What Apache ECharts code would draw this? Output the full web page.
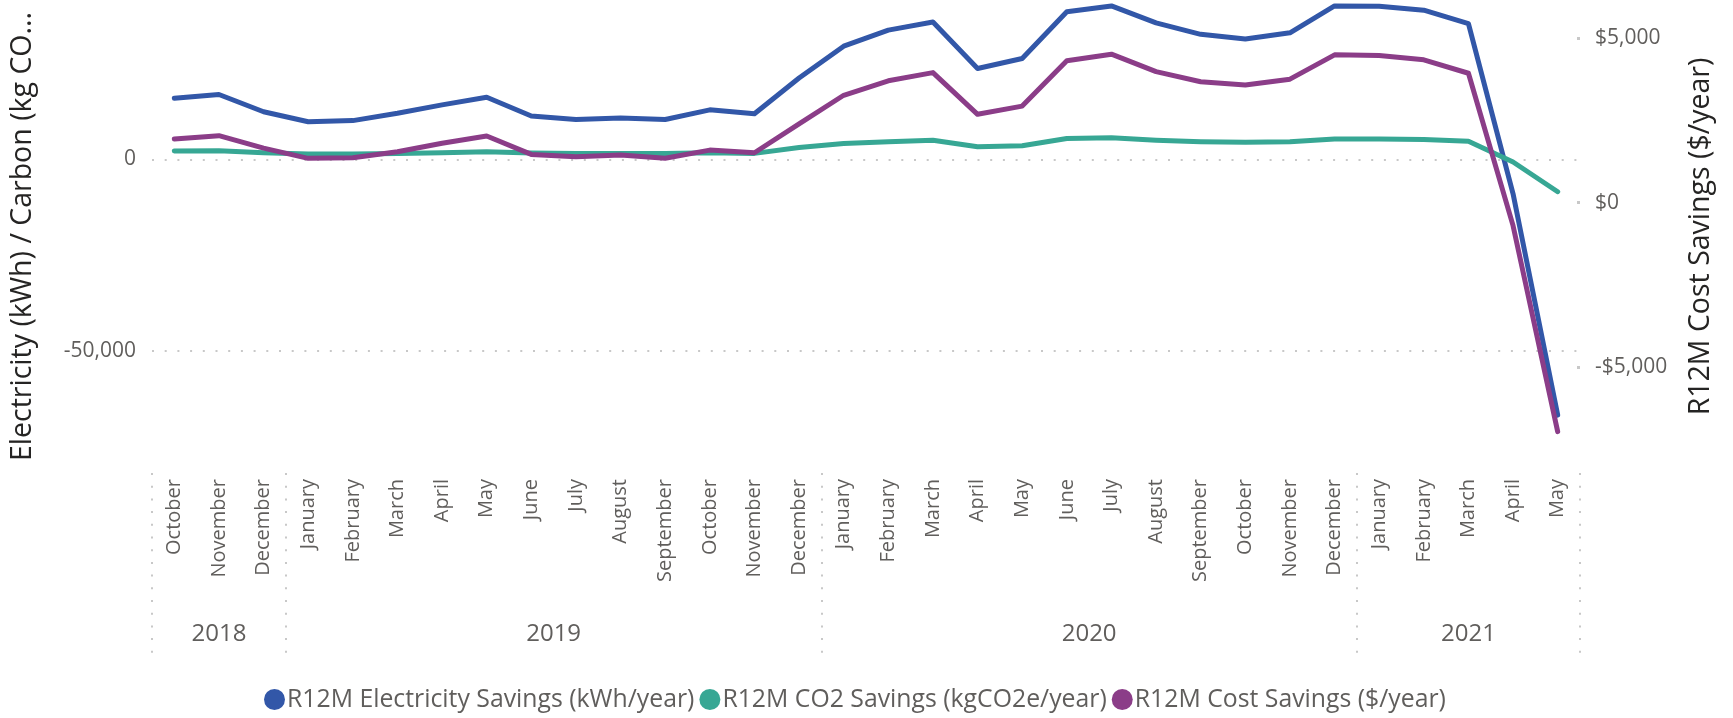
<!DOCTYPE html>
<html>
<head>
<meta charset="utf-8">
<title>R12M Savings</title>
<script src="https://cdn.jsdelivr.net/npm/echarts@6/dist/echarts.min.js"></script>
<style>
	html, body { margin: 0; padding: 0; background: #fff; }
	#root { width: 1733px; height: 718px; }
</style>
</head>
<body>
<div id="root"></div>
<script>
// months from October 2018 to May 2021
var months = [
	'October', 'November', 'December',
	'January', 'February', 'March', 'April', 'May', 'June', 'July', 'August', 'September', 'October', 'November', 'December',
	'January', 'February', 'March', 'April', 'May', 'June', 'July', 'August', 'September', 'October', 'November', 'December',
	'January', 'February', 'March', 'April', 'May'
];
var years = [ '2018', '2019', '2020', '2021' ];
var monthsPerYear = [ 3, 12, 12, 5 ];

// kWh/year
var electricitySavings = [
	15900, 16900, 12400,
	9800, 10100, 12000, 14200, 16200, 11300, 10400, 10800, 10400, 12900, 11900, 21200,
	29500, 33700, 35800, 23700, 26300, 38500, 40000, 35600, 32600, 31400, 33000, 40000,
	39900, 38900, 35400, -9000, -66700
];
// kgCO2e/year
var co2Savings = [
	2150, 2250, 1700,
	1400, 1400, 1550, 1700, 1950, 1650, 1550, 1550, 1550, 1700, 1550, 3100,
	4150, 4600, 5000, 3300, 3550, 5450, 5600, 5000, 4600, 4450, 4600, 5300,
	5300, 5200, 4700, -700, -8450
];
// $/year
var costSavings = [
	1940, 2040, 1660,
	1350, 1370, 1550, 1810, 2030, 1470, 1400, 1450, 1350, 1600, 1520, 2400,
	3270, 3710, 3960, 2690, 2940, 4320, 4520, 3990, 3680, 3580, 3760, 4500,
	4480, 4350, 3940, -700, -6970
];

var leftTicks = [ -50000, 0 ];
var rightTicks = [ -5000, 0, 5000 ];

var seriesNames = [
	'R12M Electricity Savings (kWh/year)',
	'R12M CO2 Savings (kgCO2e/year)',
	'R12M Cost Savings ($/year)'
];
var colors = [ '#3257A8', '#37A794', '#8B3D88' ];

// year separators and label centres on a 0..n value axis
var yearBounds = [ 0 ];
var yearCenters = [];
monthsPerYear.forEach( function( n, i ) {
	var start = yearBounds[ i ];
	yearBounds.push( start + n );
	yearCenters.push( start + n / 2 );
});

var gray = '#605E5C';
var dotted = { color: '#C8C8C8', width: 2, type: [ 2, 10.7 ] };

function fmtNum( v ) {
	return v.toLocaleString( 'en-US' );
}
function fmtDollar( v ) {
	return ( v < 0 ? '-$' : '$' ) + Math.abs( v ).toLocaleString( 'en-US' );
}

function lineSeries( name, data, yIndex, color ) {
	return {
		name: name,
		type: 'line',
		data: data,
		yAxisIndex: yIndex,
		symbol: 'none',
		clip: false,
		itemStyle: { color: color },
		lineStyle: { color: color, width: 5, cap: 'round', join: 'round' }
	};
}

var chart = echarts.init( document.getElementById( 'root' ) );

var option = {
	animation: false,
	textStyle: { fontFamily: "'Segoe UI', 'Open Sans', sans-serif" },
	grid: { left: 151, right: 153, top: 0, height: 473, containLabel: false },
	legend: {
		bottom: 6,
		left: 264,
		icon: 'circle',
		itemWidth: 21,
		itemHeight: 21,
		itemGap: 5,
		padding: 0,
		textStyle: { fontSize: 24.8, color: gray, padding: [ 0, 0, 0, -3 ] },
		data: seriesNames
	},
	xAxis: [
		{
			type: 'category',
			data: months,
			boundaryGap: true,
			axisLine: { show: false, onZero: false },
			axisTick: { show: false },
			axisLabel: { interval: 0, rotate: 90, fontSize: 20, color: gray, margin: 6 }
		},
		{
			type: 'value',
			position: 'bottom',
			min: 0,
			max: months.length,
			axisLine: { show: false, onZero: false },
			splitLine: { show: false },
			axisTick: { show: true, customValues: yearBounds, length: 187, lineStyle: dotted },
			axisLabel: {
				customValues: yearCenters,
				margin: 149,
				fontSize: 24,
				color: gray,
				formatter: function( v ) {
					return years[ yearCenters.indexOf( v ) ] || '';
				}
			}
		}
	],
	yAxis: [
		{
			type: 'value',
			position: 'left',
			min: -81800,
			max: 41550,
			name: 'Electricity (kWh) / Carbon (kg CO...',
			nameLocation: 'middle',
			nameRotate: 90,
			nameGap: 115,
			nameTextStyle: { fontSize: 28.5, color: '#252423' },
			axisLine: { show: false },
			axisTick: { show: false, customValues: leftTicks },
			axisLabel: { customValues: leftTicks, fontSize: 21, color: gray, margin: 16, formatter: fmtNum },
			splitLine: { show: true, lineStyle: dotted }
		},
		{
			type: 'value',
			position: 'right',
			min: -8230,
			max: 6170,
			name: 'R12M Cost Savings ($/year)',
			nameLocation: 'middle',
			nameRotate: 90,
			nameGap: 106,
			nameTextStyle: { fontSize: 28.5, color: '#252423' },
			axisLine: { show: false },
			axisTick: { show: true, inside: true, length: 3, customValues: rightTicks, lineStyle: { color: '#C8C8C8', width: 3 } },
			axisLabel: { customValues: rightTicks, fontSize: 21, color: gray, margin: 15, formatter: fmtDollar },
			splitLine: { show: false }
		}
	],
	series: [
		lineSeries( seriesNames[0], electricitySavings, 0, colors[0] ),
		lineSeries( seriesNames[1], co2Savings, 0, colors[1] ),
		lineSeries( seriesNames[2], costSavings, 1, colors[2] )
	]
};

chart.setOption( option );
</script>
</body>
</html>
